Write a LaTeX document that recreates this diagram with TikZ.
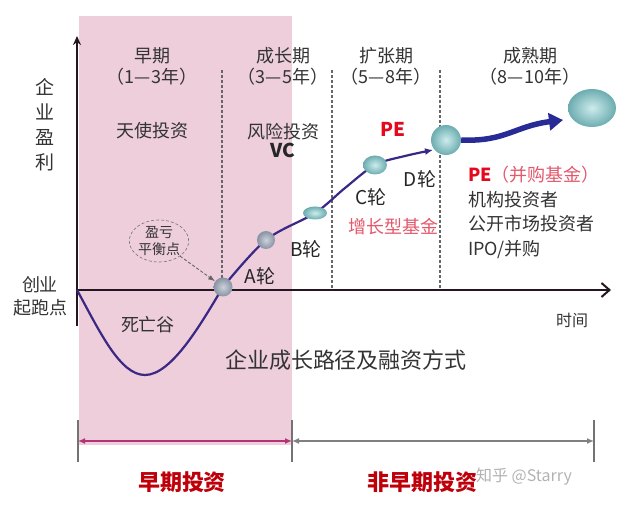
\documentclass[tikz,border=0pt]{standalone}
\usepackage{fontspec}
\setmainfont{Noto Sans CJK SC}
\usetikzlibrary{arrows.meta,positioning,calc,shapes.geometric}
\definecolor{earlypink}{RGB}{237,206,218}
\definecolor{pathblue}{RGB}{58,40,132}
\definecolor{arrowblue}{RGB}{40,42,150}
\definecolor{axisdark}{RGB}{35,22,32}
\definecolor{pered}{RGB}{228,10,30}
\definecolor{fundpink}{RGB}{226,88,108}
\definecolor{darkred}{RGB}{190,0,10}
\definecolor{spanmag}{RGB}{178,52,118}
\definecolor{spangray}{RGB}{128,128,128}
\definecolor{tealin}{RGB}{205,236,236}
\definecolor{tealout}{RGB}{108,172,176}
\definecolor{grayin}{RGB}{205,210,220}
\definecolor{grayout}{RGB}{135,146,162}

\begin{document}
\begin{tikzpicture}[
  x=1pt,y=-1pt,
  txt/.style={inner sep=1pt,text=black!80,font=\fontsize{18}{23}\selectfont,align=center},
  lat/.style={inner sep=1pt,text=black!85,font=\fontsize{19}{22}\selectfont},
  bubble/.style={ellipse,inner sep=0pt,inner color=tealin,outer color=tealout},
  gbubble/.style={ellipse,inner sep=0pt,inner color=grayin,outer color=grayout},
  growth/.style={draw=pathblue,line width=2.2pt},
  axis/.style={draw=axisdark,line width=2.6pt},
  phase/.style={draw=black!60,densely dashed,line width=1.1pt},
  tick/.style={draw=black!55,line width=2.4pt},
  span/.style={line width=1.8pt,{Latex[length=7pt,width=6pt]}-{Latex[length=7pt,width=6pt]}}
]
\useasboundingbox (0,0) rectangle (625,505);
\fill[earlypink] (79,16) rectangle (292,445);

% axes
\coordinate (origin) at (77,290);
\draw[axis,-{Stealth[length=9pt,width=8pt]}] (77,326) -- (77,36);
\draw[axis,-{Straight Barb[length=8pt,width=14pt,line width=2pt]}] (origin) -- (611,290);

% phase borders
\foreach \px in {222,332,440}
  \draw[phase] (\px,70) -- (\px,290);

% headers
\node[txt] (early) at (152,56) {早期};
\node[txt,below=1pt of early] (earlyyr) {（1—3年）};
\node[txt] (grow) at (283,56) {成长期};
\node[txt,below=1pt of grow] (growyr) {（3—5年）};
\node[txt] (expand) at (386,56) {扩张期};
\node[txt,below=1pt of expand] (expandyr) {（5—8年）};
\node[txt] (mature) at (530,56) {成熟期};
\node[txt,below=1pt of mature] (matureyr) {（8—10年）};

\node[txt,font=\fontsize{19}{25}\selectfont] (profit) at (45,125) {企\\业\\盈\\利};
\node[txt,font=\fontsize{18}{23}\selectfont] (start) at (40,296) {创业\\起跑点};
\node[txt,font=\fontsize{16}{20}\selectfont] (time) at (572,320) {时间};

% growth path
\coordinate (pa) at (223,287);
\coordinate (pb) at (266,240);
\coordinate (pbc) at (315,213);
\coordinate (pc) at (375,165);
\coordinate (pd) at (446,140);
\draw[growth] (origin) .. controls (100,332) and (120,375) .. (145,375)
  .. controls (172,375) and (202,322) .. (pa);
\draw[growth,-{Latex[length=8pt,width=7pt]}] plot[smooth,tension=0.55]
  coordinates {(pa) (pb) (pbc) (345,188) (pc) (405,156) (433,150)};

% bubbles
\node[gbubble,minimum width=19pt,minimum height=19pt] (ba) at (pa) {};
\node[gbubble,minimum width=18pt,minimum height=18pt] (bb) at (pb) {};
\node[bubble,minimum width=24pt,minimum height=13pt] (bbc) at (pbc) {};
\node[bubble,minimum width=24pt,minimum height=19pt] (bc) at (pc) {};
\node[bubble,minimum width=30pt,minimum height=30pt] (bd) at (pd) {};
\node[bubble,minimum width=48pt,minimum height=38pt] (bend) at (592,108) {};
\coordinate (tip) at (563,120);
\draw[draw=arrowblue,line width=5.5pt,-{Triangle[length=14pt,width=17pt]}]
  (bd.east) .. controls (505,142) and (515,126) .. (tip);

% breakeven
\node[ellipse,draw=black!55,densely dashed,line width=0.6pt,inner sep=0pt,
  minimum width=56pt,minimum height=42pt,text=black!80,
  font=\fontsize{14}{17}\selectfont,align=center] (breakeven) at (159,241) {盈亏\\平衡点};
\draw[black!60,densely dashed,line width=0.9pt,-{Latex[length=7pt,width=5pt]}]
  (breakeven) -- (ba);

% round labels
\node[lat] (ra) at (260,276) {A轮};
\node[lat] (rb) at (306,249) {B轮};
\node[lat] (rc) at (371,197) {C轮};
\node[lat] (rd) at (420,179) {D轮};
\node[txt] (angel) at (152,131) {天使投资};
\node[txt] (venture) at (283,132) {风险投资};
\node[lat,font=\fontsize{19}{22}\selectfont\bfseries,below=0pt of venture] (vc) {VC};
\node[lat,font=\fontsize{19}{22}\selectfont\bfseries,text=pered] (pe) at (393,129) {PE};
\node[txt,text=fundpink] (fund) at (393,227) {增长型基金};
\node[txt,anchor=north west,align=left,font=\fontsize{18}{24.5}\selectfont] (late) at (467,165)
  {\textcolor{pered}{\bfseries PE}\textcolor{fundpink}{（并购基金）}\\
   机构投资者\\公开市场投资者\\IPO/并购};
\node[txt,font=\fontsize{22}{26}\selectfont] (title) at (346,360) {企业成长路径及融资方式};
\node[txt] (valley) at (148,325) {死亡谷};

% investment spans
\coordinate (s0) at (78,441);
\coordinate (s1) at (292,441);
\coordinate (s2) at (594,441);
\foreach \s in {s0,s1,s2}
  \draw[tick] ($(\s)+(0,-21)$) -- ($(\s)+(0,21)$);
\draw[span,spanmag] (s0) -- (s1);
\draw[span,spangray] (s1) -- (s2);
\node[inner sep=1pt,text=darkred,font=\fontsize{22}{26}\selectfont\bfseries] (earlyinv) at (182,482) {早期投资};
\node[inner sep=1pt,text=darkred,font=\fontsize{22}{26}\selectfont\bfseries] (lateinv) at (422,482) {非早期投资};
\node[inner sep=1pt,text=black!30,font=\fontsize{16}{18}\selectfont] (mark) at (524,477) {知乎 @Starry};
\end{tikzpicture}
\end{document}
